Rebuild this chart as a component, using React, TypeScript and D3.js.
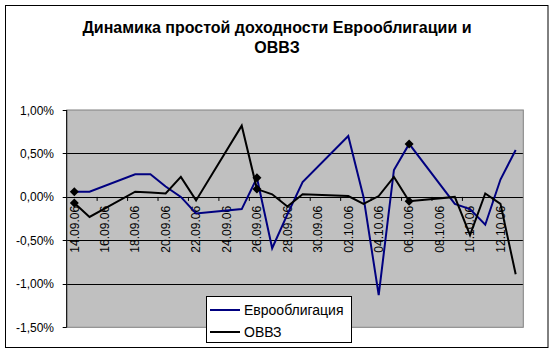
import React from "react";
import * as d3 from "d3";

const days = [
  "14.09.06","15.09.06","16.09.06","17.09.06","18.09.06","19.09.06","20.09.06","21.09.06","22.09.06","23.09.06",
  "24.09.06","25.09.06","26.09.06","27.09.06","28.09.06","29.09.06","30.09.06","01.10.06","02.10.06","03.10.06",
  "04.10.06","05.10.06","06.10.06","07.10.06","08.10.06","09.10.06","10.10.06","11.10.06","12.10.06","13.10.06",
];
const tradeDates = [
  "14.09.06","15.09.06","18.09.06","19.09.06","20.09.06","21.09.06","22.09.06","25.09.06","26.09.06","27.09.06","28.09.06",
  "29.09.06","02.10.06","03.10.06","04.10.06","05.10.06","06.10.06","09.10.06","10.10.06","11.10.06","12.10.06","13.10.06",
];
const euroValues = [0.06,0.06,0.26,0.26,0.12,0.0,-0.19,-0.14,0.22,-0.59,-0.2,0.17,0.7,0.0,-1.13,0.31,0.61,-0.08,-0.14,-0.32,0.2,0.54];
const ovvzValues = [-0.07,-0.23,0.06,0.05,0.04,0.23,-0.04,0.82,0.09,0.03,-0.11,0.03,0.01,-0.08,0.01,0.23,-0.05,0.0,-0.44,0.04,-0.08,-0.89];
const markedDates = ["14.09.06","26.09.06","06.10.06"];
const yTicks = [-1.5,-1.0,-0.5,0,0.5,1.0];
const seriesNames = ["Еврооблигация","ОВВЗ"];
const titleLines = ["Динамика простой доходности Еврооблигации и","ОВВЗ"];

const W = 556, H = 354;
const PL = 66.7, PR = 523.3, PT = 110, PB = 327.3;
const FONT = "'Liberation Sans', Arial, sans-serif";

export default function App() {
  const x = d3.scaleBand<string>().domain(days).range([PL, PR]).padding(0);
  const y = d3.scaleLinear().domain([-1.5, 1]).range([PB, PT]);
  const cx = (d: string) => (x(d) as number) + x.bandwidth() / 2;
  const fmt = (v: number) => v.toFixed(2).replace(".", ",") + "%";
  const line = d3.line<number>().x((_, i) => cx(tradeDates[i])).y((v) => y(v));
  const series = [
    { name: seriesNames[0], vals: euroValues, color: "#000080" },
    { name: seriesNames[1], vals: ovvzValues, color: "#000000" },
  ];
  const tickBounds = days.map((_, i) => i).filter((i) => i % 2 === 0 && i > 0);
  const labelDays = days.filter((_, i) => i % 2 === 0);
  const diamond = (px: number, py: number, r = 4.5) =>
    `M${px},${py - r}L${px + r},${py}L${px},${py + r}L${px - r},${py}Z`;

  return (
    <svg width={W} height={H} style={{ position: "absolute", left: 0, top: 0 }} fontFamily={FONT}>
      <rect x={0} y={0} width={W} height={H} fill="#fff" />
      <rect x={5.5} y={5.5} width={542.5} height={342} fill="#fff" stroke="#000" strokeWidth={1} />
      {titleLines.map((t, i) => (
        <text key={i} x={277} y={33 + i * 19.5} textAnchor="middle" fontWeight="bold" fontSize={16}>{t}</text>
      ))}
      <rect x={PL} y={PT} width={PR - PL} height={PB - PT} fill="#c0c0c0" />
      {yTicks.filter((v) => v > -1.5 && v < 1).map((v) => (
        <line key={v} x1={PL} x2={PR} y1={Math.round(y(v)) + 0.5} y2={Math.round(y(v)) + 0.5} stroke="#000" strokeWidth={1} />
      ))}
      <rect x={PL} y={PT} width={PR - PL} height={PB - PT} fill="none" stroke="#808080" strokeWidth={1} />
      <line x1={PL} x2={PL} y1={PT} y2={PB} stroke="#000" strokeWidth={1} />
      {yTicks.map((v) => (
        <g key={v}>
          <line x1={PL - 4} x2={PL} y1={Math.round(y(v)) + 0.5} y2={Math.round(y(v)) + 0.5} stroke="#000" />
          <text x={54} y={y(v) + 4.5} textAnchor="end" fontSize={12}>{fmt(v)}</text>
        </g>
      ))}
      {tickBounds.map((i) => (
        <line key={i} x1={x(days[i]) as number} x2={x(days[i]) as number} y1={y(0)} y2={y(0) + 4} stroke="#000" />
      ))}
      {labelDays.map((d) => (
        <text key={d} transform={`translate(${cx(d) + 4.3},${y(0) + 9}) rotate(-90)`} textAnchor="end" fontSize={12}>{d}</text>
      ))}
      {series.map((s) => (
        <path key={s.name} d={line(s.vals) || ""} fill="none" stroke={s.color} strokeWidth={2} strokeLinejoin="miter" />
      ))}
      {series.map((s) =>
        markedDates.map((d) => {
          const i = tradeDates.indexOf(d);
          return <path key={s.name + d} d={diamond(cx(d), y(s.vals[i]))} fill="#000" />;
        })
      )}
      <rect x={206.5} y={296.5} width={145} height={46} fill="#fff" stroke="#000" strokeWidth={1} />
      {series.map((s, i) => (
        <g key={s.name}>
          <line x1={210} x2={240} y1={310 + i * 22} y2={310 + i * 22} stroke={s.color} strokeWidth={2} />
          <text x={244} y={315 + i * 22} fontSize={14}>{s.name}</text>
        </g>
      ))}
    </svg>
  );
}
